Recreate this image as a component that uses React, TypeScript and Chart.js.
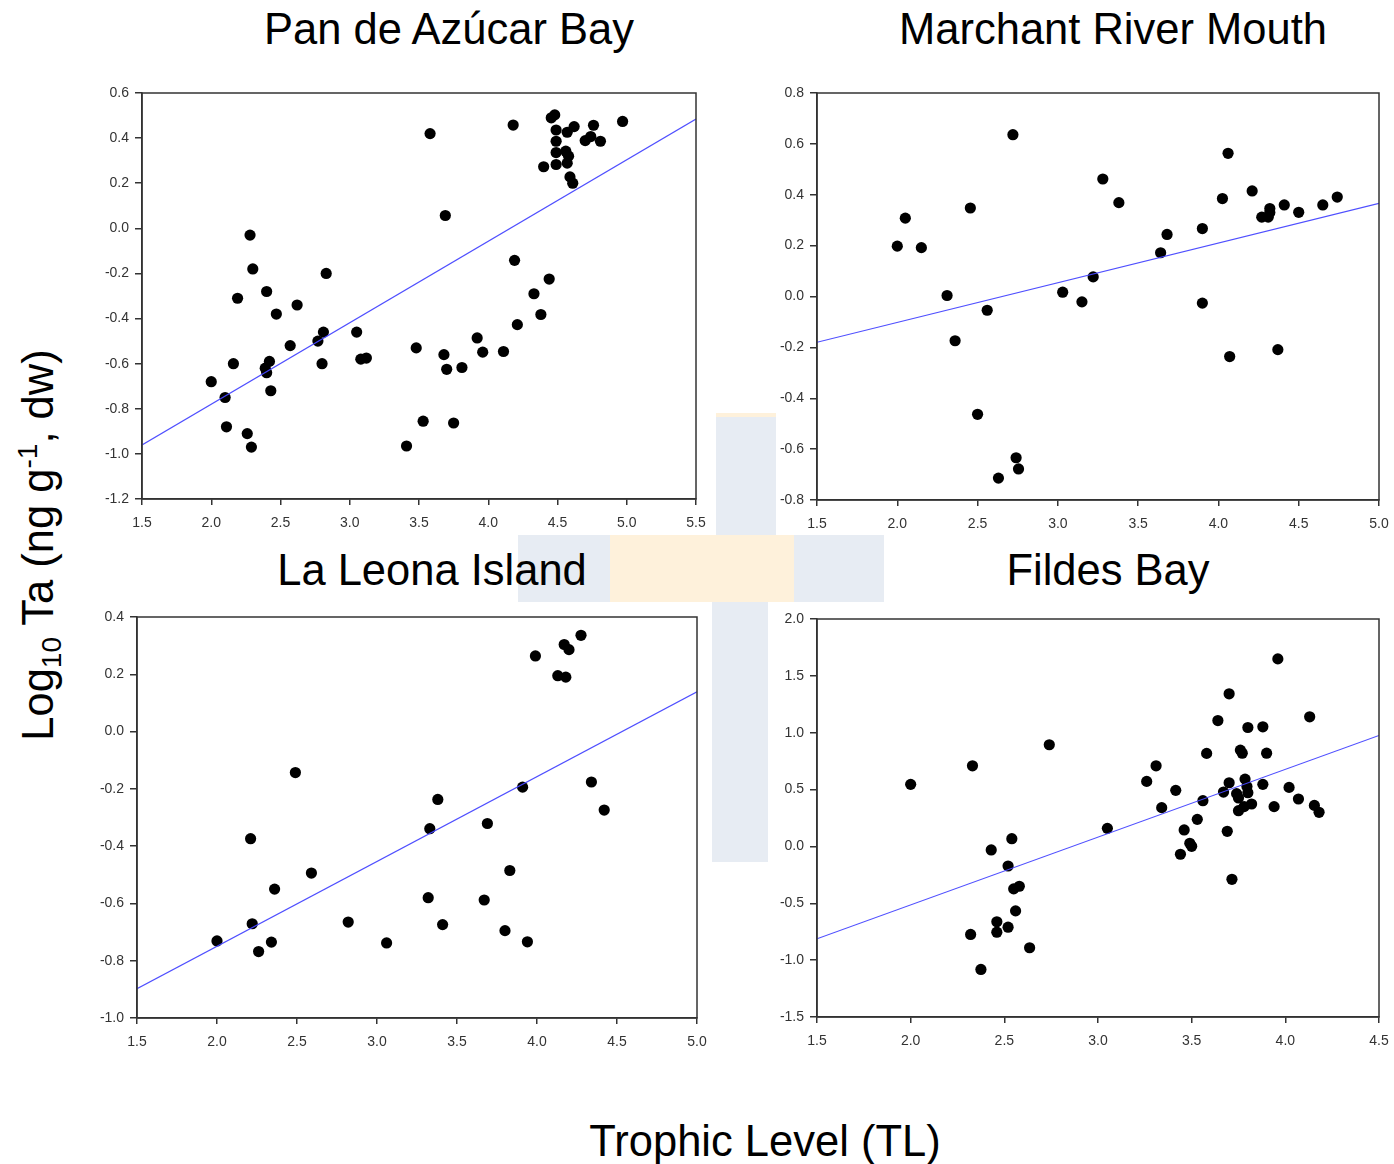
import React, { useEffect, useRef } from "react";
import { Chart, registerables } from "chart.js";

Chart.register(...registerables);

// ---------- Pan de Azúcar Bay ----------
const panDeAzucarTL = [
  2.0, 2.1, 2.11, 2.19, 2.16, 2.26, 2.29, 2.28, 2.3, 2.4, 2.39, 2.4, 2.42, 2.43, 2.47, 2.57, 2.62, 2.77, 2.81, 2.8,
  2.83, 3.05, 3.08, 3.12, 3.41, 3.48, 3.53, 3.58, 3.69, 3.68, 3.7, 3.75, 3.81, 3.92, 3.96, 4.11, 4.18, 4.19, 4.21,
  4.33, 4.38, 4.44, 4.4, 4.455, 4.48, 4.49, 4.49, 4.49, 4.49, 4.57, 4.56, 4.58, 4.57, 4.59, 4.61, 4.62, 4.7, 4.74,
  4.76, 4.81, 4.97,
];
const panDeAzucarTa = [
  -0.68, -0.75, -0.88, -0.31, -0.6, -0.91, -0.97, -0.03, -0.18, -0.28, -0.62, -0.64, -0.59, -0.72, -0.38, -0.52,
  -0.34, -0.5, -0.46, -0.6, -0.2, -0.46, -0.58, -0.575, -0.965, -0.53, -0.855, 0.42, 0.057, -0.56, -0.625, -0.863,
  -0.617, -0.486, -0.549, -0.546, 0.458, -0.142, -0.427, -0.29, -0.382, -0.225, 0.273, 0.49, 0.503, 0.436, 0.386,
  0.336, 0.283, 0.426, 0.342, 0.32, 0.289, 0.228, 0.2, 0.451, 0.389, 0.407, 0.457, 0.386, 0.474,
];
const panDeAzucarFitTL = [1.5, 5.5];
const panDeAzucarFitTa = [-0.96, 0.485];

// ---------- Marchant River Mouth ----------
const marchantTL = [
  2.0, 2.05, 2.15, 2.31, 2.36, 2.455, 2.5, 2.56, 2.63, 2.72, 2.74, 2.755, 3.03, 3.15, 3.22, 3.28, 3.38, 3.64, 3.68,
  3.9, 3.9, 4.025, 4.06, 4.07, 4.21, 4.27, 4.31, 4.32, 4.32, 4.37, 4.41, 4.5, 4.65, 4.74,
];
const marchantTa = [
  0.198, 0.308, 0.192, 0.004, -0.174, 0.348, -0.463, -0.054, -0.714, 0.636, -0.634, -0.678, 0.017, -0.021, 0.077,
  0.462, 0.369, 0.172, 0.244, 0.267, -0.026, 0.385, 0.563, -0.236, 0.415, 0.312, 0.312, 0.346, 0.33, -0.209, 0.36,
  0.331, 0.36, 0.391,
];
const marchantFitTL = [1.5, 5.0];
const marchantFitTa = [-0.18, 0.366];

// ---------- La Leona Island ----------
const laLeonaTL = [
  2.0, 2.21, 2.22, 2.26, 2.34, 2.36, 2.49, 2.59, 2.82, 3.06, 3.32, 3.33, 3.38, 3.41, 3.67, 3.69, 3.8, 3.83, 3.91,
  3.94, 3.99, 4.13, 4.18, 4.17, 4.2, 4.275, 4.34, 4.42,
];
const laLeonaTa = [
  -0.731, -0.374, -0.671, -0.768, -0.735, -0.55, -0.143, -0.494, -0.665, -0.738, -0.58, -0.339, -0.237, -0.674,
  -0.588, -0.321, -0.695, -0.485, -0.194, -0.734, 0.264, 0.195, 0.19, 0.304, 0.286, 0.336, -0.176, -0.274,
];
const laLeonaFitTL = [1.5, 5.0];
const laLeonaFitTa = [-0.898, 0.139];

// ---------- Fildes Bay ----------
const fildesTL = [
  2.0, 2.32, 2.33, 2.375, 2.43, 2.46, 2.46, 2.52, 2.52, 2.54, 2.55, 2.58, 2.56, 2.635, 2.74, 3.05, 3.26, 3.31, 3.34,
  3.415, 3.44, 3.46, 3.49, 3.5, 3.53, 3.56, 3.58, 3.64, 3.67, 3.69, 3.7, 3.7, 3.715, 3.74, 3.75, 3.75, 3.76, 3.77,
  3.78, 3.785, 3.795, 3.8, 3.8, 3.82, 3.88, 3.88, 3.9, 3.94, 3.96, 4.02, 4.07, 4.13, 4.155, 4.18,
];
const fildesTa = [
  0.546, -0.774, 0.709, -1.082, -0.031, -0.663, -0.754, -0.172, -0.71, 0.068, -0.373, -0.35, -0.567, -0.891, 0.894,
  0.159, 0.572, 0.709, 0.341, 0.493, -0.069, 0.145, 0.028, 0.001, 0.238, 0.402, 0.818, 1.107, 0.478, 0.133, 1.342,
  0.56, -0.289, 0.464, 0.426, 0.314, 0.847, 0.82, 0.35, 0.592, 0.528, 0.472, 1.046, 0.373, 0.546, 1.052, 0.82, 0.35,
  1.649, 0.519, 0.417, 1.14, 0.361, 0.3,
];
const fildesFitTL = [1.5, 4.5];
const fildesFitTa = [-0.812, 0.976];

const FONT = "'Liberation Sans', Arial, sans-serif";
const AXIS_COLOR = "#333";

const boxPlugin = {
  id: "boxFrame",
  afterDraw(chart: any) {
    const { ctx, chartArea } = chart;
    ctx.save();
    ctx.strokeStyle = AXIS_COLOR;
    ctx.lineWidth = 1.5;
    ctx.strokeRect(chartArea.left, chartArea.top, chartArea.right - chartArea.left, chartArea.bottom - chartArea.top);
    ctx.restore();
  },
};

const fmt = (v: any) => {
  const n = Number(v);
  if (Math.abs(n) < 1e-9) return "0.0";
  return n.toFixed(1);
};

type PanelProps = {
  left: number;
  top: number;
  right: number;
  bottom: number;
  xs: number[];
  ys: number[];
  fitX: number[];
  fitY: number[];
  xMin: number;
  xMax: number;
  xStep: number;
  yMin: number;
  yMax: number;
  yStep: number;
};

const PADL = 70;
const PADT = 14;
const PADR = 26;
const PADB = 40;

function Panel(p: PanelProps) {
  const ref = useRef<HTMLCanvasElement>(null);
  const cw = p.right - p.left + PADL + PADR;
  const ch = p.bottom - p.top + PADT + PADB;

  useEffect(() => {
    if (!ref.current) return;
    const zeroPad = (s: any) => {
      s.paddingLeft = 0;
      s.paddingRight = 0;
      s.paddingTop = 0;
      s.paddingBottom = 0;
    };
    const tickFont = { family: FONT, size: 14 };
    const chart = new Chart(ref.current, {
      type: "scatter",
      data: {
        datasets: [
          {
            data: p.fitX.map((x, i) => ({ x, y: p.fitY[i] })),
            showLine: true,
            borderColor: "rgba(70,70,255,0.95)",
            borderWidth: 1.2,
            pointRadius: 0,
            fill: false,
          } as any,
          {
            data: p.xs.map((x, i) => ({ x, y: p.ys[i] })),
            backgroundColor: "#000",
            borderWidth: 0,
            pointRadius: 5.6,
          },
        ],
      },
      options: {
        responsive: false,
        animation: false,
        events: [],
        layout: { padding: { left: 0, top: PADT, right: PADR, bottom: 0 } },
        plugins: { legend: { display: false }, tooltip: { enabled: false }, title: { display: false } },
        scales: {
          x: {
            type: "linear",
            min: p.xMin,
            max: p.xMax,
            ticks: {
              stepSize: p.xStep,
              callback: fmt,
              font: tickFont,
              color: AXIS_COLOR,
              padding: 10,
              maxRotation: 0,
              autoSkip: false,
            },
            grid: { drawOnChartArea: false, drawTicks: true, tickLength: 6, color: AXIS_COLOR, lineWidth: 1.5 },
            border: { display: true, color: AXIS_COLOR, width: 1.5 },
            afterFit: (s: any) => {
              s.height = PADB;
              zeroPad(s);
            },
          },
          y: {
            type: "linear",
            min: p.yMin,
            max: p.yMax,
            ticks: {
              stepSize: p.yStep,
              callback: fmt,
              font: tickFont,
              color: AXIS_COLOR,
              padding: 6,
              autoSkip: false,
            },
            grid: { drawOnChartArea: false, drawTicks: true, tickLength: 7, color: AXIS_COLOR, lineWidth: 1.5 },
            border: { display: true, color: AXIS_COLOR, width: 1.5 },
            afterFit: (s: any) => {
              s.width = PADL;
              zeroPad(s);
            },
          },
        },
      } as any,
      plugins: [boxPlugin],
    });
    return () => chart.destroy();
  }, []);

  return (
    <canvas
      ref={ref}
      width={cw}
      height={ch}
      style={{ position: "absolute", left: p.left - PADL, top: p.top - PADT, width: cw, height: ch }}
    />
  );
}

const bigText: React.CSSProperties = {
  position: "absolute",
  fontFamily: FONT,
  fontSize: 43.5,
  lineHeight: "50px",
  height: 50,
  color: "#000",
  whiteSpace: "nowrap",
  textAlign: "center",
};

function Title({ text, cx, baseline }: { text: string; cx: number; baseline: number }) {
  const w = 600;
  return <div style={{ ...bigText, left: cx - w / 2, top: baseline - 40, width: w }}>{text}</div>;
}

const wmBlue = "#e7ecf3";
const wmGold = "#fef1db";

function Watermark() {
  const r = (l: number, t: number, w: number, h: number, c: string) => (
    <div style={{ position: "absolute", left: l, top: t, width: w, height: h, background: c }} />
  );
  return (
    <>
      {r(716, 413, 60, 122, wmBlue)}
      {r(716, 413, 60, 4, wmGold)}
      {r(518, 535, 92, 67, wmBlue)}
      {r(610, 535, 184, 67, wmGold)}
      {r(794, 535, 90, 67, wmBlue)}
      {r(712, 602, 56, 260, wmBlue)}
    </>
  );
}

export default function App() {
  return (
    <div style={{ position: "absolute", left: 0, top: 0, width: 1394, height: 1164, background: "#fff", overflow: "hidden" }}>
      <Watermark />
      <Title text="Pan de Azúcar Bay" cx={449} baseline={44} />
      <Title text="Marchant River Mouth" cx={1113} baseline={44} />
      <Title text="La Leona Island" cx={432} baseline={585} />
      <Title text="Fildes Bay" cx={1108} baseline={585} />
      <div style={{ ...bigText, left: 765 - 300, top: 1156 - 40, width: 600 }}>Trophic Level (TL)</div>
      <div
        style={{
          ...bigText,
          left: 38 - 300,
          top: 545 - 25,
          width: 600,
          transform: "rotate(-90deg)",
          transformOrigin: "50% 50%",
        }}
      >
        Log<sub style={{ fontSize: 28, verticalAlign: "-8px", lineHeight: 0 }}>10</sub> Ta (ng g
        <sup style={{ fontSize: 28, verticalAlign: "16px", lineHeight: 0 }}>-1</sup>, dw)
      </div>
      <Panel
        left={142}
        top={93}
        right={696}
        bottom={499}
        xs={panDeAzucarTL}
        ys={panDeAzucarTa}
        fitX={panDeAzucarFitTL}
        fitY={panDeAzucarFitTa}
        xMin={1.5}
        xMax={5.5}
        xStep={0.5}
        yMin={-1.2}
        yMax={0.6}
        yStep={0.2}
      />
      <Panel
        left={817}
        top={93}
        right={1379}
        bottom={500}
        xs={marchantTL}
        ys={marchantTa}
        fitX={marchantFitTL}
        fitY={marchantFitTa}
        xMin={1.5}
        xMax={5.0}
        xStep={0.5}
        yMin={-0.8}
        yMax={0.8}
        yStep={0.2}
      />
      <Panel
        left={137}
        top={617}
        right={697}
        bottom={1018}
        xs={laLeonaTL}
        ys={laLeonaTa}
        fitX={laLeonaFitTL}
        fitY={laLeonaFitTa}
        xMin={1.5}
        xMax={5.0}
        xStep={0.5}
        yMin={-1.0}
        yMax={0.4}
        yStep={0.2}
      />
      <Panel
        left={817}
        top={619}
        right={1379}
        bottom={1017}
        xs={fildesTL}
        ys={fildesTa}
        fitX={fildesFitTL}
        fitY={fildesFitTa}
        xMin={1.5}
        xMax={4.5}
        xStep={0.5}
        yMin={-1.5}
        yMax={2.0}
        yStep={0.5}
      />
    </div>
  );
}
